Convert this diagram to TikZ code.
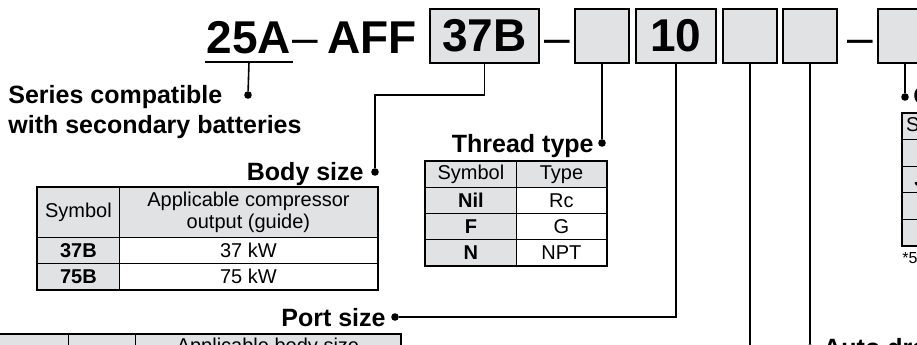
\documentclass[tikz,border=0pt]{standalone}
\usepackage{fontspec}
\setmainfont{Liberation Sans}
\usetikzlibrary{positioning,calc}
\definecolor{boxgray}{HTML}{E1E2E4}
\definecolor{cellgray}{HTML}{E1E2E4}

\begin{document}
\begin{tikzpicture}[
      x=0.5pt, y=-0.5pt,
      code/.style={font=\fontsize{23}{26}\selectfont\bfseries, inner sep=0pt},
      codebox/.style={code, draw, line width=0.8pt, fill=boxgray,
                      minimum width=27pt, minimum height=27pt},
      dashtxt/.style={font=\fontsize{23}{26}\selectfont, inner sep=0pt},
      lbl/.style={font=\fontsize{12.5}{15}\selectfont\bfseries, inner sep=0pt},
      dot/.style={circle, fill, inner sep=0pt, minimum size=3.8pt},
      conn/.style={line width=0.8pt},
      cell/.style={draw, line width=0.45pt, anchor=north west, inner sep=0pt,
                   align=center, minimum height=13pt, font=\fontsize{10}{11}\selectfont},
      symcell/.style={cell, fill=cellgray, font=\fontsize{10}{11}\selectfont\bfseries},
      headcell/.style={cell, fill=cellgray},
      frame/.style={line width=0.8pt},
    ]
    \useasboundingbox (0,0) rectangle (917,344);
    \clip (0,0) rectangle (917,344);

    \node[code, anchor=base, inner xsep=0.6pt] (t25) at (249,53) {25A};
    \node[dashtxt, anchor=base] (d1) at (305,53) {–};
    \node[code, anchor=base west] (tAFF) at (327,53) {AFF};
    \node[codebox, minimum width=54.5pt] (b37) at (484.5,36) {37B};
    \node[dashtxt, anchor=base] (d2) at (557.5,53) {–};
    \node[codebox] (b2) at (602,36) {};
    \node[codebox, minimum width=40pt] (b3) at (676,36) {10};
    \node[codebox] (b4) at (750,36) {};
    \node[codebox] (b5) at (810,36) {};
    \node[dashtxt, anchor=base] (d3) at (860.5,53) {–};
    \node[codebox] (b6) at (905,36) {};

    \node[lbl, anchor=base west, align=left] (lSeries) at (8,133) {Series compatible\\with secondary batteries};
    \node[lbl, anchor=base east] (lBody) at (364,180) {Body size};
    \node[lbl, anchor=base east] (lThread) at (594,152) {Thread type};
    \node[lbl, anchor=base east] (lPort) at (386,326) {Port size};
    \node[lbl, anchor=base west] (lAuto) at (823,356) {Auto drain};
    \node[lbl, anchor=base west] (lOpt) at (913,104) {Option};

    \node[dot] (dSeries) at (248,95) {};
    \node[dot] (dBody) at (375,172) {};
    \node[dot] (dThread) at (602,143) {};
    \node[dot] (dPort) at (395,317) {};
    \node[dot] (dAuto) at (810,348) {};
    \node[dot] (dOpt) at (905,97) {};
    \coordinate (u25) at ([yshift=-4.5pt]t25.base);
    \coordinate (kBody) at (484.5,95);
    \coordinate (eB4) at (750,372);

    \draw[conn] ([yshift=-4.5pt]t25.base west) -- ([yshift=-4.5pt]t25.base east);
    \draw[conn] (u25) -- (dSeries);
    \draw[conn] (b37.south) -- (kBody) -| (dBody);
    \draw[conn] (b2.south) -- (dThread);
    \draw[conn] (b3.south) |- (dPort);
    \draw[conn] (b4.south) -- (eB4);
    \draw[conn] (b5.south) -- (dAuto);
    \draw[conn] (b6.south) -- (dOpt);

    \node[headcell, minimum width=41pt, minimum height=25pt] (bs-h1) at (37,187) {Symbol};
    \node[headcell, minimum width=129pt, minimum height=25pt] (bs-h2) at (119,187) {Applicable compressor\\output (guide)};
    \foreach \s/\v [count=\i] in {37B/37 kW, 75B/75 kW} {
      \node[symcell, minimum width=41pt] (bs-s\i) at (37,{211+26*\i}) {\s};
      \node[cell, minimum width=129pt] (bs-v\i) at (119,{211+26*\i}) {\v};
    }
    \draw[frame] (bs-h1.north west) rectangle (bs-v2.south east);

    \node[headcell, minimum width=45.5pt] (th-h1) at (425,161) {Symbol};
    \node[headcell, minimum width=45pt] (th-h2) at (516,161) {Type};
    \foreach \s/\t [count=\i] in {Nil/Rc, F/G, N/NPT} {
      \node[symcell, minimum width=45.5pt] (th-s\i) at (425,{161+26*\i}) {\s};
      \node[cell, minimum width=45pt] (th-v\i) at (516,{161+26*\i}) {\t};
    }
    \draw[frame] (th-h1.north west) rectangle (th-v3.south east);

    \node[headcell, minimum width=37pt, minimum height=13.2pt] (op-h) at (902,113) {Symbol};
    \foreach \i in {1,...,4} {
      \node[symcell, minimum width=37pt, minimum height=13.2pt] (op-s\i) at (902,{113+26.4*\i}) {};
    }
    \node[font=\fontsize{10}{11}\selectfont\bfseries, inner sep=0pt, anchor=base west] (op-j) at (914,186) {J};
    \draw[frame] (op-h.north west) rectangle (op-s4.south east);
    \node[font=\fontsize{8}{9}\selectfont, inner sep=0pt, anchor=west] (note5) at (902,258) {*5};

    \node[headcell, minimum width=44pt] (ps-h1) at (-20,334) {};
    \node[headcell, minimum width=33.5pt] (ps-h2) at (68,334) {};
    \node[headcell, minimum width=132.5pt] (ps-h3) at (135,334) {Applicable body size};
    \draw[frame] (ps-h1.north west) -- (ps-h3.north east) -- (ps-h3.south east);
  \end{tikzpicture}
\end{document}
